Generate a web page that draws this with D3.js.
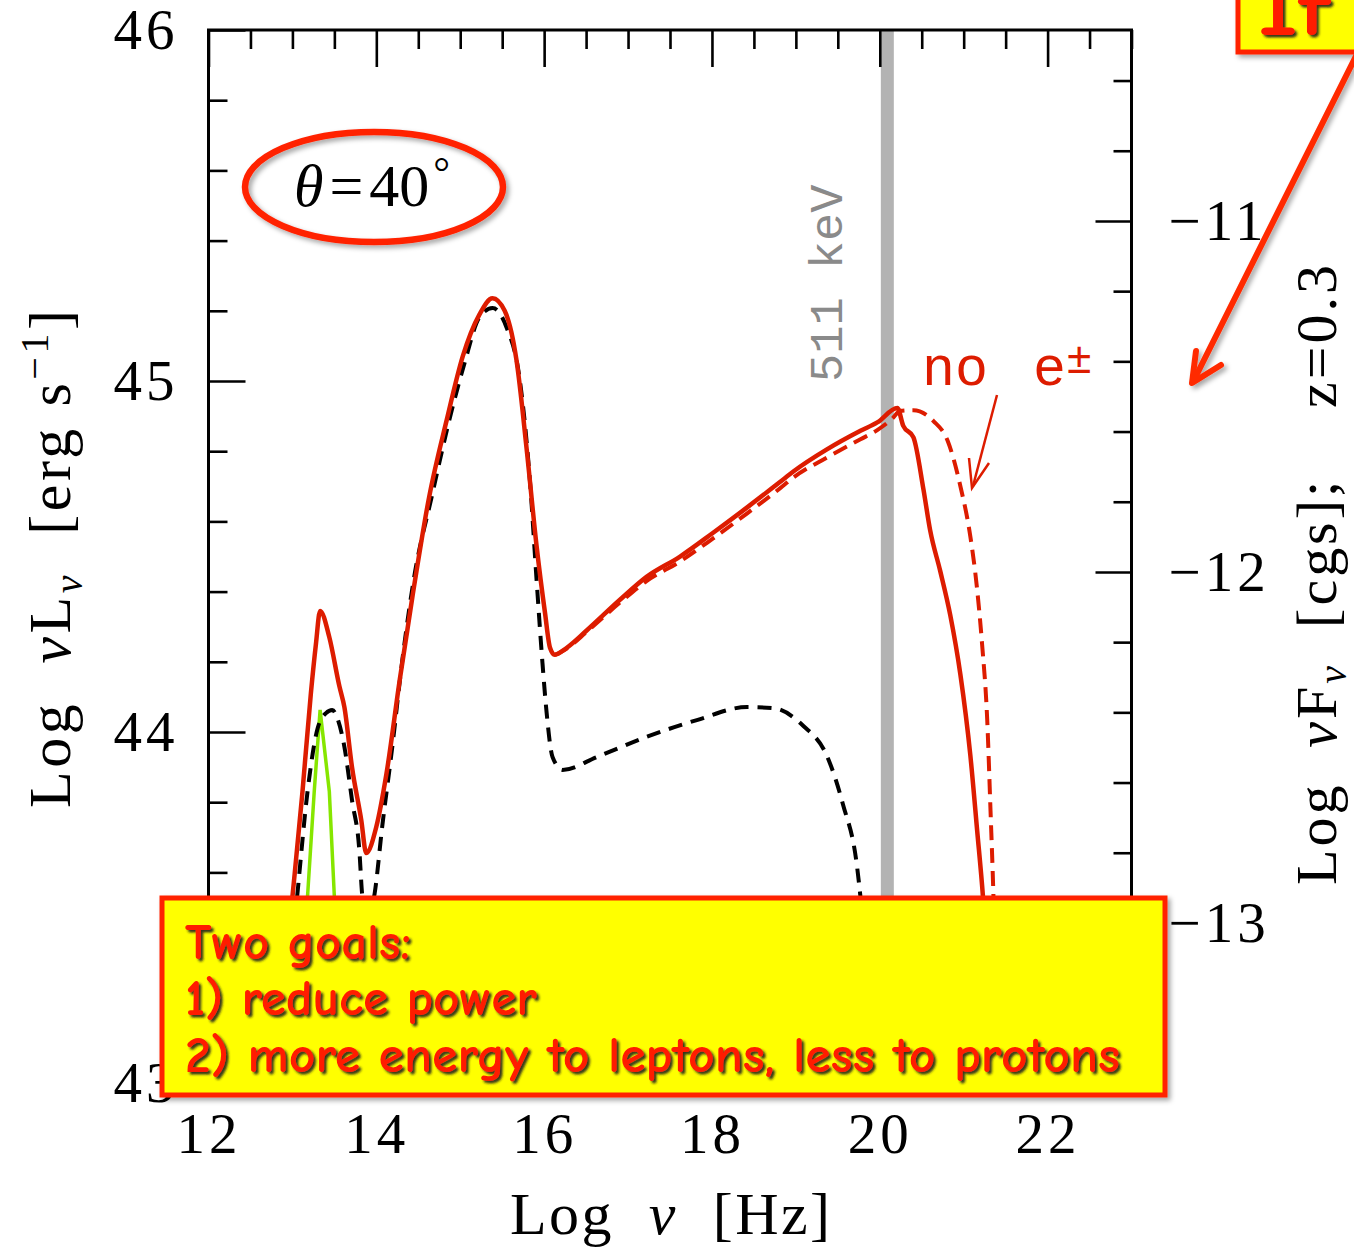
<!DOCTYPE html>
<html>
<head>
<meta charset="utf-8">
<script src="https://cdn.jsdelivr.net/npm/d3@7"></script>
<style>
  html, body { margin: 0; padding: 0; background: #fff; }
  svg { display: block; }
</style>
</head>
<body>
<svg id="chart" width="1354" height="1248"></svg>
<script>
// SED curves: [log nu (Hz), log nuL_nu (erg/s)]
const redSolid = [
  [12.88,43.24],[13.00,43.53],[13.12,43.83],[13.22,44.11],[13.28,44.25],[13.33,44.345],
  [13.44,44.27],[13.56,44.13],[13.62,44.07],[13.71,43.90],[13.82,43.75],[13.88,43.655],
  [14.00,43.73],[14.12,43.88],[14.28,44.15],[14.43,44.385],[14.63,44.67],[14.84,44.89],
  [15.03,45.07],[15.23,45.19],[15.385,45.236],[15.53,45.20],[15.67,45.06],[15.79,44.81],
  [15.91,44.53],[16.01,44.34],[16.07,44.24],[16.125,44.22],[16.27,44.24],[16.51,44.29],
  [16.90,44.376],[17.22,44.442],[17.62,44.50],[18.01,44.567],[18.42,44.64],[18.81,44.712],
  [18.97,44.742],[19.37,44.805],[19.77,44.858],[19.97,44.882],[20.21,44.923],[20.28,44.872],
  [20.40,44.84],[20.52,44.692],[20.60,44.575],[20.72,44.459],[20.84,44.333],[20.96,44.165],
  [21.08,43.932],[21.16,43.721],[21.23,43.53],[21.28,43.35],[21.32,43.10]
];
// same model without pair production ("no e±")
const redDashed = [
  [16.125,44.219],[16.27,44.238],[16.51,44.286],[16.90,44.368],[17.22,44.43],[17.62,44.486],
  [18.01,44.551],[18.42,44.623],[18.81,44.694],[18.97,44.725],[19.37,44.782],[19.77,44.834],
  [19.97,44.86],[20.15,44.893],[20.245,44.915],[20.40,44.917],[20.64,44.886],[20.81,44.829],
  [20.96,44.701],[21.08,44.556],[21.16,44.407],[21.22,44.248],[21.28,44.037],[21.32,43.775],
  [21.355,43.53],[21.38,43.30],[21.40,43.10]
];
const blackDashed = [
  [12.95,43.27],[13.06,43.54],[13.18,43.83],[13.30,44.01],[13.40,44.054],[13.475,44.063],
  [13.53,44.043],[13.62,43.957],[13.71,43.806],[13.80,43.655],[13.83,43.54],[13.89,43.46],
  [13.98,43.54],[14.07,43.73],[14.19,43.957],[14.31,44.205],[14.45,44.44],[14.66,44.67],
  [14.87,44.889],[15.05,45.05],[15.23,45.182],[15.385,45.208],[15.55,45.154],[15.71,45.003],
  [15.83,44.718],[15.91,44.433],[15.98,44.197],[16.03,44.054],[16.10,43.929],[16.22,43.892],
  [16.63,43.929],[17.22,43.986],[17.82,44.034],[18.42,44.071],[18.73,44.068],[19.09,44.017],
  [19.37,43.932],[19.56,43.795],[19.73,43.615],[19.77,43.53],[19.84,43.35],[19.90,43.10]
];
// torus / disc component
const greenBump = [
  [13.10,43.20],[13.18,43.53],[13.26,43.83],[13.33,44.063],[13.44,43.83],[13.50,43.53],[13.56,43.20]
];

// axes
const xDomain = [12, 23];
const yDomain = [43, 46];
const xMajorTicks = [12, 14, 16, 18, 20, 22];
const yMajorTicks = [43, 44, 45, 46];
const fluxMajorTicks = [-13, -12, -11];
const fluxOffset = 56.456;          // log nuL_nu - log nuF_nu at z = 0.3
const line511 = 20.09;              // log of 511 keV in Hz
const boxLines = ["Two goals:", "1) reduce power", "2) more energy to leptons, less to protons"];

const svg = d3.select("#chart");
svg.append("rect").attr("width", 1354).attr("height", 1248).attr("fill", "#fff");

const defs = svg.append("defs");
defs.append("filter").attr("id", "drop").attr("x", "-20%").attr("y", "-20%")
  .attr("width", "140%").attr("height", "140%")
  .append("feDropShadow").attr("dx", 3).attr("dy", 3).attr("stdDeviation", 2.5)
  .attr("flood-color", "#000").attr("flood-opacity", 0.35);
defs.append("filter").attr("id", "textshadow").attr("x", "-5%").attr("y", "-30%")
  .attr("width", "110%").attr("height", "160%")
  .append("feDropShadow").attr("dx", 2.5).attr("dy", 2.5).attr("stdDeviation", 1)
  .attr("flood-color", "#1a1a1a").attr("flood-opacity", 0.9);

const L = 208.5, R = 1131.5, T = 30, B = 1083;
const x = d3.scaleLinear().domain(xDomain).range([L, R]);
const y = d3.scaleLinear().domain(yDomain).range([B, T]);
const fDomain = yDomain.map(v => v - fluxOffset);
const yF = d3.scaleLinear().domain(fDomain).range([B, T]);

defs.append("clipPath").attr("id", "plotclip").append("rect")
  .attr("x", L).attr("y", T).attr("width", R - L).attr("height", B - T);

const serif = "'Liberation Serif', 'Times New Roman', serif";
const mono = "'Liberation Mono', 'Courier New', monospace";

// 511 keV band
svg.append("line")
  .attr("x1", x(line511)).attr("x2", x(line511)).attr("y1", T).attr("y2", B)
  .attr("stroke", "#b3b3b3").attr("stroke-width", 13);

// ticks
function range(a, b, s) { const r = []; for (let v = a; v <= b + 1e-9; v += s) r.push(+v.toFixed(4)); return r; }
const xMinor = range(12, 23, 0.5).filter(v => !xMajorTicks.includes(v));
const yMinor = range(43, 46, 0.2).filter(v => !yMajorTicks.some(m => Math.abs(m - v) < 1e-6));
const fMinor = range(-13.4, -10.4, 0.2)
  .filter(v => v > fDomain[0] && v < fDomain[1])
  .filter(v => !fluxMajorTicks.some(m => Math.abs(m - v) < 1e-6));

function styleAxis(g) {
  g.select(".domain").remove();
  g.selectAll(".tick line").attr("stroke", "#000").attr("stroke-width", 2.6);
  g.selectAll(".tick text").attr("fill", "#000").attr("font-family", serif)
    .attr("font-size", 57).attr("letter-spacing", "4px");
}

// top
svg.append("g").attr("transform", `translate(0,${T})`)
  .call(d3.axisTop(x).tickValues(xMajorTicks).tickSize(-37).tickFormat(""))
  .call(styleAxis);
svg.append("g").attr("transform", `translate(0,${T})`)
  .call(d3.axisTop(x).tickValues(xMinor).tickSize(-19).tickFormat(""))
  .call(styleAxis);
// bottom
svg.append("g").attr("transform", `translate(0,${B})`)
  .call(d3.axisBottom(x).tickValues(xMajorTicks).tickSize(-37).tickPadding(30).tickFormat(d3.format("d")))
  .call(styleAxis);
svg.append("g").attr("transform", `translate(0,${B})`)
  .call(d3.axisBottom(x).tickValues(xMinor).tickSize(-19).tickFormat(""))
  .call(styleAxis);
// left
svg.append("g").attr("transform", `translate(${L},0)`)
  .call(d3.axisLeft(y).tickValues(yMajorTicks).tickSize(-37).tickPadding(30).tickFormat(d3.format("d")))
  .call(styleAxis);
svg.append("g").attr("transform", `translate(${L},0)`)
  .call(d3.axisLeft(y).tickValues(yMinor).tickSize(-19).tickFormat(""))
  .call(styleAxis);
// right (observed flux)
svg.append("g").attr("transform", `translate(${R},0)`)
  .call(d3.axisRight(yF).tickValues(fluxMajorTicks).tickSize(-36).tickPadding(37).tickFormat(d3.format("d")))
  .call(styleAxis);
svg.append("g").attr("transform", `translate(${R},0)`)
  .call(d3.axisRight(yF).tickValues(fMinor).tickSize(-18).tickFormat(""))
  .call(styleAxis);

// frame
svg.append("rect").attr("x", L).attr("y", T).attr("width", R - L).attr("height", B - T)
  .attr("fill", "none").attr("stroke", "#000").attr("stroke-width", 3);

// curves
const curves = svg.append("g").attr("clip-path", "url(#plotclip)");
const lineGen = d3.line().x(d => x(d[0])).y(d => y(d[1])).curve(d3.curveMonotoneX);
const lineLin = d3.line().x(d => x(d[0])).y(d => y(d[1]));

curves.append("path").datum(greenBump).attr("d", lineLin)
  .attr("fill", "none").attr("stroke", "#86e600").attr("stroke-width", 3.5);
curves.append("path").datum(blackDashed).attr("d", lineGen)
  .attr("fill", "none").attr("stroke", "#000").attr("stroke-width", 4)
  .attr("stroke-dasharray", "14,9");
curves.append("path").datum(redDashed).attr("d", lineGen)
  .attr("fill", "none").attr("stroke", "#dd1c00").attr("stroke-width", 4)
  .attr("stroke-dasharray", "15,8");
curves.append("path").datum(redSolid).attr("d", lineGen)
  .attr("fill", "none").attr("stroke", "#dd1c00").attr("stroke-width", 4.5)
  .attr("stroke-linejoin", "round");

// 511 keV label
svg.append("text").attr("transform", "translate(842,382) rotate(-90)")
  .attr("font-family", mono).attr("font-size", 47).attr("fill", "#8a8a8a")
  .text("511 keV");

// "no e±" label and pointer
const noe = svg.append("text").attr("y", 385)
  .attr("font-family", mono).attr("font-size", 55).attr("fill", "#dd1c00");
noe.append("tspan").attr("x", 922).text("no");
noe.append("tspan").attr("x", 1033).text("e");
noe.append("tspan").attr("font-size", 44).attr("dy", -12).text("±");
svg.append("line").attr("x1", 997).attr("y1", 395).attr("x2", 973).attr("y2", 486)
  .attr("stroke", "#dd1c00").attr("stroke-width", 2.5);
svg.append("polyline").attr("points", "969,458 972,488 989,463")
  .attr("fill", "none").attr("stroke", "#dd1c00").attr("stroke-width", 2.5)
  .attr("stroke-linejoin", "miter");

// axis titles
const ylab = svg.append("text").attr("transform", "translate(70,808) rotate(-90)")
  .attr("font-family", serif).attr("font-size", 60).attr("fill", "#000")
  .attr("textLength", 498).attr("lengthAdjust", "spacing").attr("xml:space", "preserve");
ylab.append("tspan").text("Log  ");
ylab.append("tspan").attr("font-style", "italic").text("ν");
ylab.append("tspan").text("L");
ylab.append("tspan").attr("font-style", "italic").attr("font-size", 40).attr("dy", 12).text("ν");
ylab.append("tspan").attr("dy", -12).text("  [erg s");
ylab.append("tspan").attr("font-size", 40).attr("dy", -22).text("−1");
ylab.append("tspan").attr("dy", 22).text("]");

const xlab = svg.append("text").attr("x", 510).attr("y", 1234)
  .attr("font-family", serif).attr("font-size", 60).attr("fill", "#000")
  .attr("textLength", 320).attr("lengthAdjust", "spacing").attr("xml:space", "preserve");
xlab.append("tspan").text("Log  ");
xlab.append("tspan").attr("font-style", "italic").text("ν");
xlab.append("tspan").text("  [Hz]");

const rlab = svg.append("text").attr("transform", "translate(1336,885) rotate(-90)")
  .attr("font-family", serif).attr("font-size", 58).attr("fill", "#000")
  .attr("textLength", 620).attr("lengthAdjust", "spacing").attr("xml:space", "preserve");
rlab.append("tspan").text("Log  ");
rlab.append("tspan").attr("font-style", "italic").text("ν");
rlab.append("tspan").text("F");
rlab.append("tspan").attr("font-style", "italic").attr("font-size", 40).attr("dy", 10).text("ν");
rlab.append("tspan").attr("dy", -10).text("  [cgs];    z=0.3");

// viewing angle callout
svg.append("ellipse").attr("cx", 374).attr("cy", 187).attr("rx", 129).attr("ry", 55)
  .attr("fill", "none").attr("stroke", "#ff2200").attr("stroke-width", 6.5)
  .attr("filter", "url(#drop)");
const th = svg.append("text").attr("x", 294).attr("y", 206)
  .attr("font-family", serif).attr("font-size", 60).attr("fill", "#000");
th.append("tspan").attr("font-style", "italic").text("θ");
th.append("tspan").attr("dx", 6).text("=");
th.append("tspan").attr("dx", 6).text("40");
th.append("tspan").attr("font-size", 42).attr("dx", 4).attr("dy", -20).text("°");

// summary box
const comic = "'Comic Sans MS', 'Comic Neue', 'Open Sans', sans-serif";
svg.append("rect").attr("x", 162).attr("y", 898).attr("width", 1003).attr("height", 197)
  .attr("fill", "#ffff00").attr("stroke", "#ff2200").attr("stroke-width", 5)
  .attr("filter", "url(#drop)");
const lineWidths = [226, 352, 935];
const lineBase = [959, 1015, 1072];
boxLines.forEach((t, i) => {
  svg.append("text").attr("x", 185).attr("y", lineBase[i])
    .attr("font-family", comic).attr("font-weight", 700).attr("font-size", 51)
    .attr("fill", "#ff1a00").attr("filter", "url(#textshadow)")
    .attr("textLength", lineWidths[i]).attr("lengthAdjust", "spacingAndGlyphs").text(t);
});

// top-right callout box and arrow
svg.append("rect").attr("x", 1238).attr("y", -12).attr("width", 140).attr("height", 64)
  .attr("fill", "#ffff00").attr("stroke", "#ff2200").attr("stroke-width", 5)
  .attr("filter", "url(#drop)");
svg.append("text").attr("x", 1258).attr("y", 35)
  .attr("font-family", comic).attr("font-weight", 700).attr("font-size", 74)
  .attr("fill", "#ff1a00").attr("filter", "url(#textshadow)")
  .attr("textLength", 72).attr("lengthAdjust", "spacingAndGlyphs").text("If");
const arrow = svg.append("g").attr("filter", "url(#drop)")
  .attr("stroke", "#ff2a00").attr("stroke-width", 6).attr("fill", "none")
  .attr("stroke-linecap", "round").attr("stroke-linejoin", "round");
arrow.append("line").attr("x1", 1358).attr("y1", 52).attr("x2", 1194).attr("y2", 380);
arrow.append("polyline").attr("points", "1196,351 1192,383 1221,365");
</script>
</body>
</html>
